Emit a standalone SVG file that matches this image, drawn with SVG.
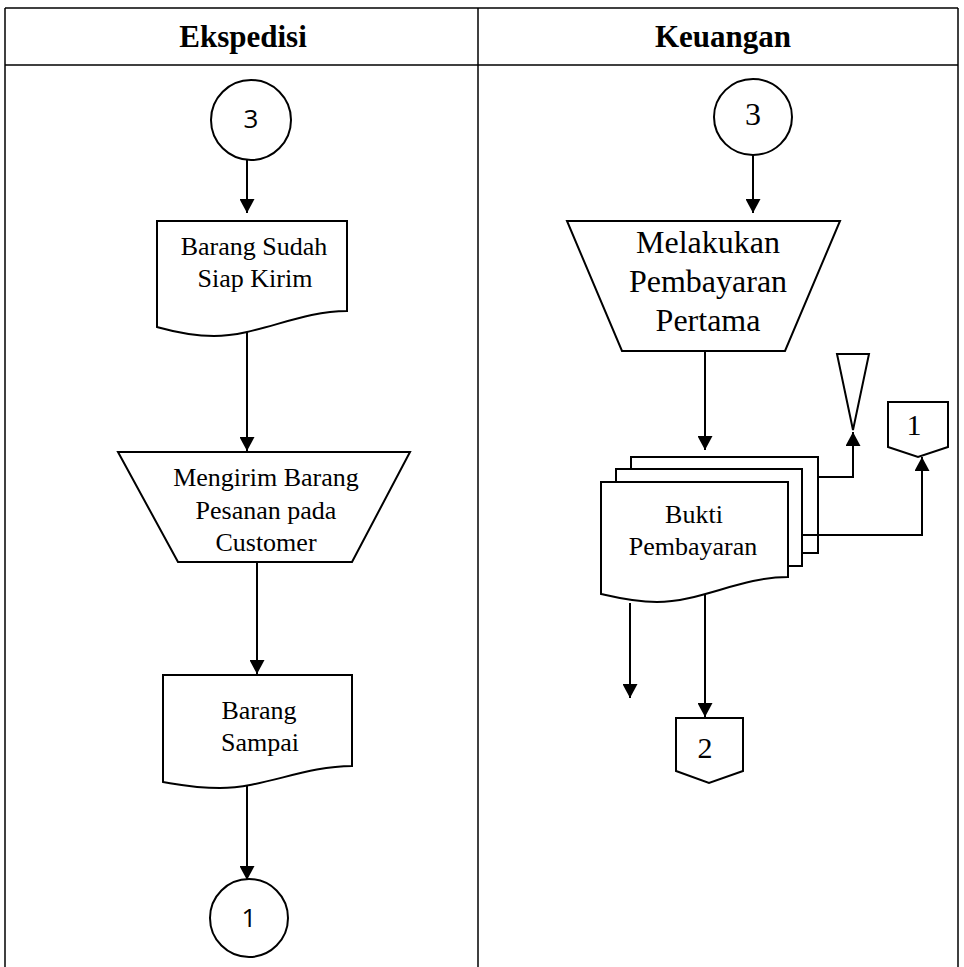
<svg xmlns="http://www.w3.org/2000/svg" width="964" height="967" viewBox="0 0 964 967">
<defs>
<style>
.tbl{stroke:#000;stroke-width:1.5;fill:none}
.shape{stroke:#000;stroke-width:2;fill:#fff;stroke-linejoin:miter}
.conn{stroke:#000;stroke-width:2;fill:none}
.hdr{font-family:"Liberation Serif","Times New Roman",serif;font-weight:bold;font-size:31px;text-anchor:middle;fill:#000}
.t{font-family:"Liberation Serif","Times New Roman",serif;font-size:26px;text-anchor:middle;fill:#000}
.tl{font-family:"Liberation Serif","Times New Roman",serif;font-size:32px;text-anchor:middle;fill:#000}
.sans{font-family:"Open Sans","Liberation Sans",sans-serif;font-size:26px;text-anchor:middle;fill:#000}
</style>
<marker id="ah" markerUnits="userSpaceOnUse" markerWidth="15" markerHeight="15" refX="14" refY="7.5" orient="auto">
<path d="M0,0 L14,7.5 L0,15 Z" fill="#000"/>
</marker>
</defs>
<rect width="964" height="967" fill="#fff"/>
<g id="table">
<line class="tbl" x1="5" y1="8" x2="958" y2="8"/>
<line class="tbl" x1="5" y1="65" x2="958" y2="65"/>
<line class="tbl" x1="5" y1="8" x2="5" y2="967"/>
<line class="tbl" x1="958" y1="8" x2="958" y2="967"/>
<line class="tbl" x1="478" y1="8" x2="478" y2="967"/>
<text class="hdr" x="243" y="47">Ekspedisi</text>
<text class="hdr" x="723" y="47">Keuangan</text>
</g>
<g id="connectors">
<polyline class="conn" points="247,160 247,213" marker-end="url(#ah)"/>
<polyline class="conn" points="247,321 247,451" marker-end="url(#ah)"/>
<polyline class="conn" points="257,562 257,674" marker-end="url(#ah)"/>
<polyline class="conn" points="247,785 247,880" marker-end="url(#ah)"/>
<polyline class="conn" points="753,155 753,213" marker-end="url(#ah)"/>
<polyline class="conn" points="705,351 705,450" marker-end="url(#ah)"/>
<polyline class="conn" points="630,603 630,698" marker-end="url(#ah)"/>
<polyline class="conn" points="705,589 705,717" marker-end="url(#ah)"/>
</g>
<g id="conn3-left">
<circle class="shape" cx="251" cy="120" r="40"/>
<text class="sans" x="251" y="128">3</text>
</g>
<g id="doc-siap-kirim">
<path class="shape" d="M157,221 H347 V311 C299.5,311 257.7,336 214,336 C189,336 170,330.6 157,327 Z"/>
<text class="t" x="254" y="255">Barang Sudah</text>
<text class="t" x="255" y="287">Siap Kirim</text>
</g>
<g id="proc-mengirim">
<polygon class="shape" points="118,452 410,452 352,562 178,562"/>
<text class="t" x="266" y="486">Mengirim Barang</text>
<text class="t" x="266" y="519">Pesanan pada</text>
<text class="t" x="266" y="551">Customer</text>
</g>
<g id="doc-sampai">
<path class="shape" d="M163,675 H352 V766 C305,766 263,788 220,788 C195,788 176,784 163,782 Z"/>
<text class="t" x="259" y="719">Barang</text>
<text class="t" x="260" y="751">Sampai</text>
</g>
<g id="conn1-left">
<circle class="shape" cx="249" cy="918" r="39"/>
<text class="sans" x="249" y="927">1</text>
</g>
<g id="conn3-right">
<ellipse class="shape" cx="753" cy="117" rx="39" ry="38"/>
<text class="tl" x="753" y="125">3</text>
</g>
<g id="proc-pembayaran">
<polygon class="shape" points="567,221 840,221 785,351 622,351"/>
<text class="tl" x="708" y="253">Melakukan</text>
<text class="tl" x="708" y="292">Pembayaran</text>
<text class="tl" x="708" y="331">Pertama</text>
</g>
<g id="doc-bukti">
<rect class="shape" x="631" y="457" width="187" height="96"/>
<rect class="shape" x="616" y="469" width="186" height="97"/>
<path class="shape" d="M601,482 H788 V577 C741,577 700,602 657,602 C633,602 614,597 601,594 Z"/>
<text class="t" x="694" y="523">Bukti</text>
<text class="t" x="693" y="555">Pembayaran</text>
</g>
<g id="connectors-side">
<polyline class="conn" points="818,477 853,477 853,432" marker-end="url(#ah)"/>
<polyline class="conn" points="802,535 922,535 922,457" marker-end="url(#ah)"/>
</g>
<g id="archive">
<polygon class="shape" points="837,354 869,354 853,430"/>
</g>
<g id="offpage1">
<polygon class="shape" points="888,402 948,402 948,447 918,457 888,447"/>
<text class="tl" x="914" y="435" style="font-size:30px">1</text>
</g>
<g id="offpage2">
<polygon class="shape" points="676,718 743,718 743,771 709,783 676,771"/>
<text class="tl" x="705" y="758" style="font-size:30px">2</text>
</g>
</svg>
